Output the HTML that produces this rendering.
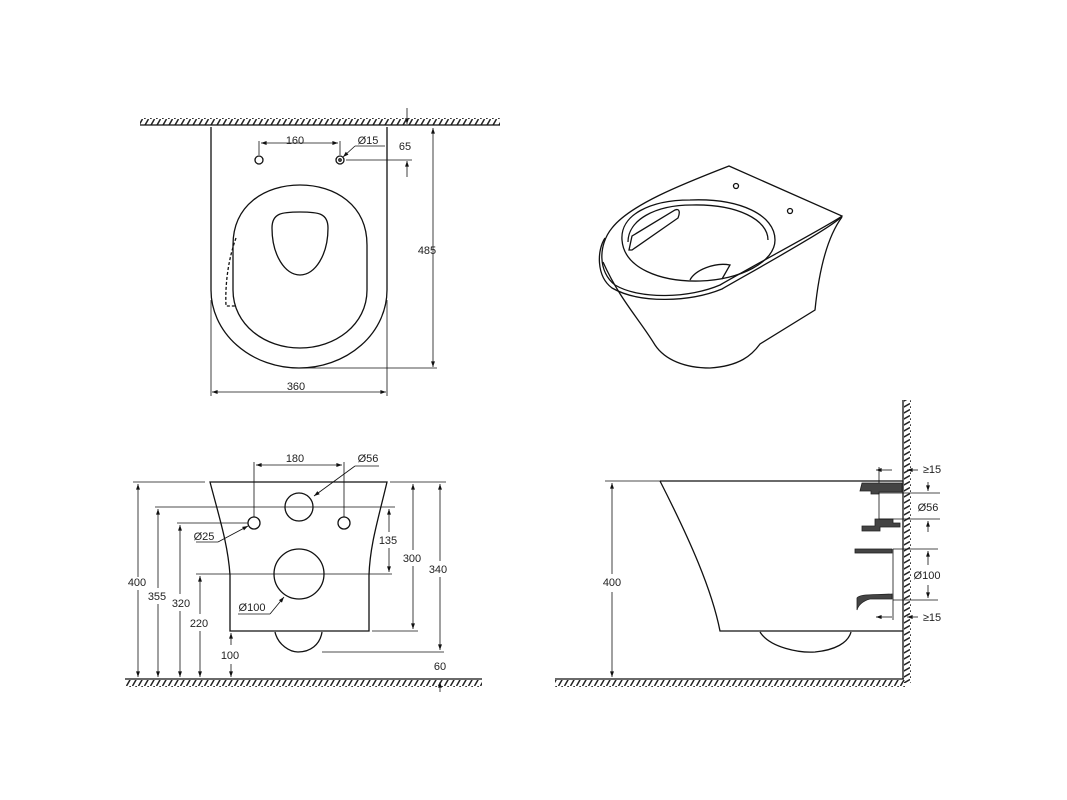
<!DOCTYPE html>
<html><head><meta charset="utf-8"><style>
html,body{margin:0;padding:0;background:#fff}
svg{display:block}
text{font-family:"Liberation Sans",sans-serif;font-size:11px;fill:#222}
</style></head><body>
<svg width="1067" height="800" viewBox="0 0 1067 800" xmlns="http://www.w3.org/2000/svg">
<defs>
<pattern id="hu" width="6" height="7" patternUnits="userSpaceOnUse"><path d="M0.5,7 L4.5,0" stroke="#222" stroke-width="1.5"/></pattern>
<pattern id="hv" width="7" height="6" patternUnits="userSpaceOnUse"><path d="M0,5.5 L7,1.5" stroke="#222" stroke-width="1.5"/></pattern>
<marker id="a" viewBox="0 0 10 10" refX="10" refY="5" markerWidth="9" markerHeight="7" orient="auto-start-reverse"><path d="M0,1.5 L10,5 L0,8.5z" fill="#111"/></marker>
</defs>
<g fill="none" stroke="#111" stroke-width="1.3">
<!-- TOP VIEW -->
<rect x="140" y="118" width="360" height="7" fill="url(#hu)" stroke="none"/>
<line x1="140" y1="125" x2="500" y2="125"/>
<path d="M211,127 V290 A88,78 0 0 0 387,290 V127"/>
<path d="M233,245 C233,205 265,185 300,185 C335,185 367,205 367,245 V290 C367,325 335,348 300,348 C265,348 233,325 233,290 Z"/>
<path d="M272,228 C272,213 282,212 300,212 C318,212 328,213 328,228 C328,255 315,275 300,275 C285,275 272,255 272,228Z"/>
<path d="M236,238 C228,260 225,285 226,306 H236" stroke-dasharray="3,2"/>
<circle cx="259" cy="160" r="4"/><circle cx="340" cy="160" r="4"/><circle cx="340" cy="160" r="1.2"/>
<g stroke-width="0.8">
<line x1="259" y1="141" x2="259" y2="155"/><line x1="340" y1="141" x2="340" y2="155"/>
<line x1="261" y1="143" x2="338" y2="143" marker-start="url(#a)" marker-end="url(#a)"/>
<line x1="355" y1="146" x2="385" y2="146"/><line x1="355" y1="146" x2="343" y2="157" marker-end="url(#a)"/>
<line x1="346" y1="160" x2="412" y2="160"/>
<line x1="407" y1="108" x2="407" y2="124" marker-end="url(#a)"/>
<line x1="407" y1="177" x2="407" y2="161" marker-end="url(#a)"/>
<line x1="433" y1="128" x2="433" y2="367" marker-start="url(#a)" marker-end="url(#a)"/>
<line x1="300" y1="368" x2="437" y2="368"/>
<line x1="211" y1="300" x2="211" y2="396"/><line x1="387" y1="300" x2="387" y2="396"/>
<line x1="212" y1="392" x2="386" y2="392" marker-start="url(#a)" marker-end="url(#a)"/>
</g>
<!-- 3D VIEW -->
<path d="M729,166 L842,216 C835,222 760,262 720,285 C690,298 640,300 615,285 C598,272 598,245 612,228 C630,205 680,185 729,166Z"/>
<path d="M842,216 C836,225 762,266 722,289 C690,302 640,304 612,288 C596,276 597,250 605,238"/>
<path d="M622,240 C620,215 650,200 690,200 C740,198 775,215 775,240 C775,262 740,280 700,281 C660,282 624,268 622,240Z"/>
<path d="M628,242 C628,220 655,205 692,205 C738,204 768,220 768,240"/>
<path d="M629,250 L632,236 L675,210 C680,208 680,213 678,218 L632,250Z"/>
<path d="M690,280 C695,270 715,262 730,265 L722,279"/>
<path d="M603,262 C620,300 640,320 655,345 C665,360 685,368 710,368 C740,366 752,355 760,344 L815,310 C818,280 825,240 842,217"/>
<circle cx="736" cy="186" r="2.5"/><circle cx="790" cy="211" r="2.5"/>
<!-- FRONT VIEW -->
<rect x="125" y="680" width="357" height="7" fill="url(#hu)" stroke="none"/>
<line x1="125" y1="679" x2="482" y2="679"/>
<path d="M210,482 H387 C378,520 370,545 369,575 V631 H230 V575 C228,545 220,520 210,482Z"/>
<path d="M275,632 C278,645 290,652 298,652 C310,652 320,645 322,632"/>
<circle cx="299" cy="507" r="14"/><circle cx="254" cy="523" r="6"/><circle cx="344" cy="523" r="6"/><circle cx="299" cy="574" r="25"/>
<g stroke-width="0.8">
<line x1="133" y1="482" x2="205" y2="482"/>
<line x1="155" y1="507" x2="395" y2="507"/>
<line x1="177" y1="523" x2="248" y2="523"/>
<line x1="196" y1="574" x2="392" y2="574"/>
<line x1="372" y1="631" x2="418" y2="631"/>
<line x1="322" y1="652" x2="444" y2="652"/>
<line x1="390" y1="482" x2="446" y2="482"/>
<line x1="138" y1="484" x2="138" y2="577" marker-start="url(#a)"/><line x1="138" y1="590" x2="138" y2="677" marker-end="url(#a)"/>
<line x1="158" y1="509" x2="158" y2="588" marker-start="url(#a)"/><line x1="158" y1="604" x2="158" y2="677" marker-end="url(#a)"/>
<line x1="180" y1="525" x2="180" y2="594" marker-start="url(#a)"/><line x1="180" y1="611" x2="180" y2="677" marker-end="url(#a)"/>
<line x1="200" y1="576" x2="200" y2="614" marker-start="url(#a)"/><line x1="200" y1="631" x2="200" y2="677" marker-end="url(#a)"/>
<line x1="231" y1="645" x2="231" y2="633" marker-end="url(#a)"/><line x1="231" y1="664" x2="231" y2="677" marker-end="url(#a)"/>
<line x1="389" y1="509" x2="389" y2="532" marker-start="url(#a)"/><line x1="389" y1="548" x2="389" y2="572" marker-end="url(#a)"/>
<line x1="413" y1="484" x2="413" y2="550" marker-start="url(#a)"/><line x1="413" y1="566" x2="413" y2="629" marker-end="url(#a)"/>
<line x1="440" y1="484" x2="440" y2="561" marker-start="url(#a)"/><line x1="440" y1="577" x2="440" y2="650" marker-end="url(#a)"/>
<line x1="440" y1="692" x2="440" y2="682" marker-end="url(#a)"/>
<line x1="254" y1="462" x2="254" y2="517"/><line x1="344" y1="462" x2="344" y2="517"/>
<line x1="256" y1="465" x2="342" y2="465" marker-start="url(#a)" marker-end="url(#a)"/>
<line x1="355" y1="466" x2="379" y2="466"/><line x1="355" y1="466" x2="314" y2="496" marker-end="url(#a)"/>
<line x1="196" y1="542" x2="218" y2="542"/><line x1="218" y1="542" x2="248" y2="526" marker-end="url(#a)"/>
<line x1="238" y1="614" x2="270" y2="614"/><line x1="270" y1="614" x2="284" y2="597" marker-end="url(#a)"/>
</g>
<!-- SIDE VIEW -->
<rect x="555" y="680" width="350" height="7" fill="url(#hu)" stroke="none"/>
<rect x="904" y="400" width="7" height="283" fill="url(#hv)" stroke="none"/>
<line x1="555" y1="679" x2="904" y2="679"/>
<line x1="903" y1="400" x2="903" y2="679"/>
<path d="M660,481 H903 M660,481 C690,540 712,590 720,631 H903"/>
<path d="M760,632 C770,648 800,653 815,652 C835,650 848,643 851,632"/>
<g fill="#444" stroke="#222" stroke-width="0.8">
<path d="M862,483 H902 V492 H879 V494 H871 V491 H860 Z"/>
<path d="M875,519 H893 V523 H900 V527 H880 V531 H862 V526 H875Z"/>
<rect x="855" y="549" width="37" height="4"/>
<path d="M857,598 C860,594 870,595 892,594 V599 H870 C862,601 858,606 857,610Z"/>
</g>
<g stroke-width="0.8">
<line x1="605" y1="481" x2="660" y2="481"/>
<line x1="612" y1="483" x2="612" y2="574" marker-start="url(#a)"/><line x1="612" y1="592" x2="612" y2="677" marker-end="url(#a)"/>
<line x1="879" y1="467" x2="879" y2="483"/><line x1="876" y1="470" x2="892" y2="470" marker-start="url(#a)"/>
<line x1="918" y1="470" x2="907" y2="470" marker-end="url(#a)"/>
<line x1="879" y1="493" x2="940" y2="493"/><line x1="879" y1="519" x2="940" y2="519"/><line x1="879" y1="493" x2="879" y2="519"/>
<line x1="928" y1="482" x2="928" y2="491" marker-end="url(#a)"/><line x1="928" y1="532" x2="928" y2="521" marker-end="url(#a)"/>
<line x1="893" y1="549" x2="938" y2="549"/><line x1="893" y1="600" x2="938" y2="600"/><line x1="893" y1="549" x2="893" y2="620"/>
<line x1="928" y1="565" x2="928" y2="551" marker-end="url(#a)"/><line x1="928" y1="585" x2="928" y2="598" marker-end="url(#a)"/>
<line x1="876" y1="617" x2="892" y2="617" marker-start="url(#a)"/>
<line x1="918" y1="617" x2="907" y2="617" marker-end="url(#a)"/>
</g>
</g>
<g text-anchor="middle">
<text x="295" y="144">160</text><text x="368" y="144">Ø15</text><text x="405" y="150">65</text>
<text x="427" y="254">485</text><text x="296" y="390">360</text>
<text x="295" y="462">180</text><text x="368" y="462">Ø56</text><text x="204" y="540">Ø25</text><text x="252" y="611">Ø100</text>
<text x="137" y="586">400</text><text x="157" y="600">355</text><text x="181" y="607">320</text><text x="199" y="627">220</text><text x="230" y="659">100</text>
<text x="388" y="544">135</text><text x="412" y="562">300</text><text x="438" y="573">340</text><text x="440" y="670">60</text>
<text x="612" y="586">400</text><text x="932" y="473">≥15</text><text x="928" y="511">Ø56</text><text x="927" y="579">Ø100</text><text x="932" y="621">≥15</text>
</g>
</svg>
</body></html>
